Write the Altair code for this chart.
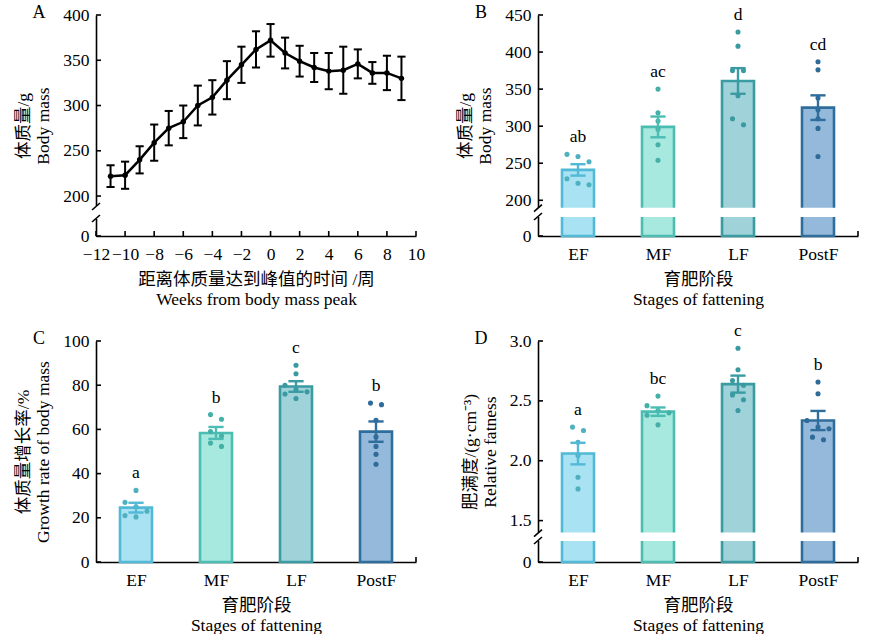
import altair as alt
import pandas as pd

FONT = "Liberation Serif, Noto Sans CJK SC"
W, H = 320, 221

# ---------------- Panel A data ----------------
weeks = list(range(-11, 10))
mass_mean = [222, 223, 240, 259, 275, 282, 300, 309, 328, 345, 362, 372,
             358, 349, 342, 338, 339, 346, 336, 336, 330]
mass_sem = [12, 15, 15, 20, 19, 18, 22, 19, 21, 20, 20, 18,
            17, 17, 16, 20, 26, 16, 12, 19, 24]
week_ticks = list(range(-12, 11, 2))
a_yticks = [0, 200, 250, 300, 350, 400]

# ---------------- Bar panels ----------------
stages = ["EF", "MF", "LF", "PostF"]
fill_colors = ["#a9e3f3", "#a7e8df", "#9fd2d9", "#94b9da"]
stroke_colors = ["#52b9d6", "#4cbdb3", "#3b9ba2", "#2f6e9c"]
point_colors = ["#4fb0c0", "#45b0a8", "#3a9aa2", "#2e6b98"]

# B: body mass
b_mean = [241, 299, 361, 325]
b_sem = [7.7, 14, 17.3, 16.6]
b_sig = ["ab", "ac", "d", "cd"]
b_pts = {
    "EF": [262, 259, 252, 229, 223, 221],
    "MF": [350, 318, 307, 296, 275, 254],
    "LF": [427, 408, 375, 375, 341, 310, 302],
    "PostF": [387, 376, 338, 322, 310, 297, 259],
}
b_yticks = [0, 200, 250, 300, 350, 400, 450]

# C: growth rate
c_mean = [24.6, 58.4, 79.4, 59.0]
c_sem = [2.2, 2.7, 2.4, 4.6]
c_sig = ["a", "b", "c", "b"]
c_pts = {
    "EF": [32.4, 27.0, 25.0, 23.0, 21.0, 20.4],
    "MF": [66.7, 64.6, 59.0, 57.0, 53.8, 52.3],
    "LF": [89.0, 85.2, 80.0, 78.0, 77.0, 76.0, 74.0],
    "PostF": [71.9, 71.2, 64.1, 56.6, 52.3, 48.7, 44.2],
}
c_yticks = [0, 20, 40, 60, 80, 100]

# D: relative fatness
d_mean = [2.06, 2.41, 2.64, 2.336]
d_sem = [0.09, 0.035, 0.071, 0.08]
d_sig = ["a", "bc", "c", "b"]
d_pts = {
    "EF": [2.281, 2.253, 2.155, 2.044, 1.862, 1.765],
    "MF": [2.54, 2.46, 2.42, 2.40, 2.38, 2.30],
    "LF": [2.94, 2.76, 2.67, 2.63, 2.55, 2.51, 2.42],
    "PostF": [2.657, 2.56, 2.336, 2.281, 2.267, 2.197, 2.175],
}
d_yticks = [0, 1.5, 2.0, 2.5, 3.0]

XAXIS = dict(labelOverlap=False, labelFlush=False, labelPadding=9, titlePadding=8,
             labelFont=FONT, labelFontSize=17.5)
YAXIS = dict(labelOverlap=False, labelFlush=False, labelPadding=7, titlePadding=10,
             labelFont=FONT, labelFontSize=17.5)


def swarm(vals, px_per_unit, thresh=7.0):
    order = sorted(range(len(vals)), key=lambda i: -vals[i])
    clusters = []
    for i in order:
        if clusters and (vals[clusters[-1][-1]] - vals[i]) * px_per_unit < thresh:
            clusters[-1].append(i)
        else:
            clusters.append([i])
    off = [0.0] * len(vals)
    for c in clusters:
        n = len(c)
        for k, i in enumerate(c):
            off[i] = (k - (n - 1) / 2) if n <= 3 else ((k % 3) - 1)
    return off


def letter_mark(letter):
    return alt.Chart(pd.DataFrame({"t": [letter]})).mark_text(
        font=FONT, fontSize=18, align="center", baseline="middle", color="black").encode(
        x=alt.value(-57), y=alt.value(-2), text="t:N")


def break_marks(ylo_px, yhi_px, xr):
    layers = []
    gap = alt.Chart(pd.DataFrame({"a": [0]})).mark_rect(color="white").encode(
        x=alt.value(-8), x2=alt.value(xr), y=alt.value(yhi_px), y2=alt.value(ylo_px))
    layers.append(gap)
    for (y1, y2) in [(yhi_px + 4, yhi_px - 3), (ylo_px + 3, ylo_px - 4)]:
        layers.append(alt.Chart(pd.DataFrame({"a": [0]})).mark_rule(
            strokeWidth=1.6, color="black").encode(
            x=alt.value(-4), x2=alt.value(4), y=alt.value(y1), y2=alt.value(y2)))
    return layers


# ---------------- Panel A ----------------
adf = pd.DataFrame({"week": weeks, "mean": mass_mean, "sem": mass_sem})
adf["lo"] = adf["mean"] - adf["sem"]
adf["hi"] = adf["mean"] + adf["sem"]
adf["c0"] = adf["week"] - 0.28
adf["c1"] = adf["week"] + 0.28

a_yrange = [H, 204, 191, 0]
a_ys = alt.Scale(domain=[0, 1, 189, 400], range=a_yrange, nice=False, zero=False)
a_xs = alt.Scale(domain=[-12, 10], nice=False, zero=False)
ax_ax = dict(values=week_ticks, **XAXIS)
ax_ay = dict(values=a_yticks, **YAXIS)


def AX(field, title=None):
    kw = dict(ax_ax)
    if title:
        kw["title"] = title
    return alt.X(field, scale=a_xs, axis=alt.Axis(**kw))


def AY(field, title=None):
    kw = dict(ax_ay)
    if title:
        kw["title"] = title
    return alt.Y(field, scale=a_ys, axis=alt.Axis(**kw))


abase = alt.Chart(adf)
a_line = abase.mark_line(color="black", strokeWidth=2.5).encode(
    x=AX("week:Q", ["距离体质量达到峰值的时间 /周", "Weeks from body mass peak"]),
    y=AY("mean:Q", ["体质量/g", "Body mass"]))
a_pts = abase.mark_circle(color="black", size=30, opacity=1).encode(
    x=AX("week:Q"), y=AY("mean:Q"))
a_err = abase.mark_rule(color="black", strokeWidth=2).encode(
    x=AX("week:Q"), y=AY("lo:Q"), y2="hi")
a_cap_hi = abase.mark_rule(color="black", strokeWidth=2).encode(
    x=AX("c0:Q"), x2="c1", y=AY("hi:Q"))
a_cap_lo = abase.mark_rule(color="black", strokeWidth=2).encode(
    x=AX("c0:Q"), x2="c1", y=AY("lo:Q"))
a_xticks = alt.Chart(pd.DataFrame({"t": week_ticks})).mark_rule(
    strokeWidth=1.6, color="black").encode(
    x=AX("t:Q"), y=alt.value(H), y2=alt.value(H - 5))
a_yt = alt.Chart(pd.DataFrame({"t": a_yticks})).mark_rule(
    strokeWidth=1.6, color="black").encode(
    y=AY("t:Q"), x=alt.value(0), x2=alt.value(5))
anchor = alt.Chart(pd.DataFrame({"a": [0]})).mark_point(opacity=0, size=1).encode(
    x=alt.value(-95), y=alt.value(-14))

panel_a = alt.layer(
    a_line, a_err, a_cap_hi, a_cap_lo, a_pts,
    *break_marks(a_yrange[1], a_yrange[2], 8),
    a_yt, a_xticks, letter_mark("A"), anchor
).properties(width=W, height=H)


# ---------------- Bar panel builder ----------------
def bar_panel(letter, mean, sem, sig, pts, ydomain, yrange, yticks, ytitle, ppu,
              label_expr=None):
    df = pd.DataFrame({"stage": stages, "idx": list(range(len(stages))),
                       "mean": mean, "sem": sem, "sig": sig})
    df["base"] = 0.0
    df["x0"] = df["idx"] - 0.2
    df["x1"] = df["idx"] + 0.2
    df["lo"] = df["mean"] - df["sem"]
    df["hi"] = df["mean"] + df["sem"]
    df["c0"] = df["idx"] - 0.095
    df["c1"] = df["idx"] + 0.095
    df["top"] = [max(pts[s]) for s in stages]

    rows = []
    for i, s in enumerate(stages):
        offs = swarm(pts[s], ppu)
        for v, o in zip(pts[s], offs):
            rows.append({"stage": s, "px": i + o * 0.1375, "v": v})
    pdf = pd.DataFrame(rows)

    xs = alt.Scale(domain=[-0.5, len(stages) - 0.5], nice=False, zero=False)
    ys = alt.Scale(domain=ydomain, range=yrange, nice=False, zero=False)
    xlabels = "[" + ",".join("'" + s + "'" for s in stages) + "][datum.value]"
    xkw = dict(values=list(range(len(stages))), labelExpr=xlabels, **XAXIS)
    ykw = dict(values=yticks, **YAXIS)
    if label_expr:
        ykw["labelExpr"] = label_expr

    def BX(field, title=None):
        kw = dict(xkw)
        if title:
            kw["title"] = title
        return alt.X(field, scale=xs, axis=alt.Axis(**kw))

    def BY(field, title=None):
        kw = dict(ykw)
        if title:
            kw["title"] = title
        return alt.Y(field, scale=ys, axis=alt.Axis(**kw))

    fill_scale = alt.Scale(domain=stages, range=fill_colors)
    stroke_scale = alt.Scale(domain=stages, range=stroke_colors)
    pt_scale = alt.Scale(domain=stages, range=point_colors)
    stroke_enc = alt.Stroke("stage:N", scale=stroke_scale, legend=None)

    base = alt.Chart(df)
    bars = base.mark_rect(strokeWidth=2.6).encode(
        x=BX("x0:Q", ["育肥阶段", "Stages of fattening"]),
        x2="x1",
        y=BY("mean:Q", ytitle),
        y2="base",
        color=alt.Color("stage:N", scale=fill_scale, legend=None),
        stroke=stroke_enc)
    points = alt.Chart(pdf).mark_circle(size=26, opacity=1, strokeWidth=0).encode(
        x=BX("px:Q"), y=BY("v:Q"),
        fill=alt.Fill("stage:N", scale=pt_scale, legend=None))
    err = base.mark_rule(strokeWidth=2.4).encode(
        x=BX("idx:Q"), y=BY("lo:Q"), y2="hi", stroke=stroke_enc)
    cap_hi = base.mark_rule(strokeWidth=2.4).encode(
        x=BX("c0:Q"), x2="c1", y=BY("hi:Q"), stroke=stroke_enc)
    cap_lo = base.mark_rule(strokeWidth=2.4).encode(
        x=BX("c0:Q"), x2="c1", y=BY("lo:Q"), stroke=stroke_enc)
    sigs = base.mark_text(font=FONT, fontSize=17.5, dy=-17, baseline="middle",
                          color="black").encode(
        x=BX("idx:Q"), y=BY("top:Q"), text="sig:N")
    end_tick = alt.Chart(pd.DataFrame({"t": [len(stages) - 0.5]})).mark_rule(
        strokeWidth=1.6, color="black").encode(
        x=BX("t:Q"), y=alt.value(H), y2=alt.value(H - 5))
    yt = alt.Chart(pd.DataFrame({"t": yticks})).mark_rule(
        strokeWidth=1.6, color="black").encode(
        y=BY("t:Q"), x=alt.value(0), x2=alt.value(5))

    layers = [bars]
    if len(ydomain) > 2:
        layers += break_marks(yrange[1], yrange[2], W)
    layers += [points, err, cap_hi, cap_lo, sigs, yt, end_tick, letter_mark(letter)]
    return alt.layer(*layers).properties(width=W, height=H)


panel_b = bar_panel("B", b_mean, b_sem, b_sig, b_pts,
                    [0, 1, 190, 450], [H, 202, 192.7, 0], b_yticks,
                    ["体质量/g", "Body mass"], 0.741)
panel_c = bar_panel("C", c_mean, c_sem, c_sig, c_pts,
                    [0, 100], [H, 0], c_yticks,
                    ["体质量增长率/%", "Growth rate of body mass"], 2.21)
panel_d = bar_panel("D", d_mean, d_sem, d_sig, d_pts,
                    [0, 0.01, 1.4, 3.0], [H, 200, 191.6, 0], d_yticks,
                    ["肥满度/(g·cm⁻³)", "Relative fatness"], 119.6,
                    label_expr="datum.value == 0 ? '0' : format(datum.value, '.1f')")

chart = alt.concat(
    panel_a, panel_b, panel_c, panel_d, columns=2, bounds="flush",
    spacing={"row": 105, "column": 122}
).properties(
    padding={"left": 0, "top": 0, "right": 0, "bottom": 0},
    background="white"
).configure_view(strokeWidth=0).configure_axis(
    domainColor="black", domainWidth=1.6, ticks=False, grid=False,
    labelColor="black", labelOverlap=False,
    titleFont=FONT, titleFontSize=17.5, titleFontWeight="normal", titleColor="black",
    titleLineHeight=20
)

chart.save("out.html", embed_options={"renderer": "svg", "actions": False})
